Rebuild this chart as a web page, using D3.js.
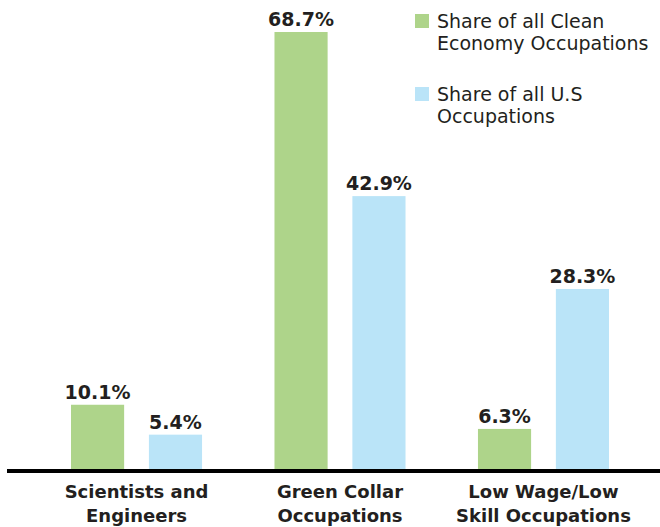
<!DOCTYPE html>
<html lang="en">
<head>
  <meta charset="UTF-8">
  <title>Clean economy occupations</title>
  <script src="https://d3js.org/d3.v7.min.js"></script>
  <style>
    body { margin: 0; background: #ffffff; }
    .val { font-family: "DejaVu Sans", sans-serif; font-weight: bold; font-size: 19px; fill: #231f20; }
    .cat { font-family: "DejaVu Sans", sans-serif; font-weight: bold; font-size: 18px; fill: #231f20; }
    .leg { font-family: "DejaVu Sans", sans-serif; font-size: 19px; fill: #231f20; }
  </style>
</head>
<body>
<script>
// data
var categories = [["Scientists and", "Engineers"], ["Green Collar", "Occupations"], ["Low Wage/Low", "Skill Occupations"]];
var seriesNames = [["Share of all Clean", "Economy Occupations"], ["Share of all U.S", "Occupations"]];
var cleanShare = [10.1, 68.7, 6.3];
var usShare = [5.4, 42.9, 28.3];
var colors = ["#aed48a", "#bae4f8"];

var W = 660, H = 527;
var svg = d3.select("body").append("svg")
  .attr("width", W)
  .attr("height", H);

var baseline = 469;
var x0 = d3.scaleBand()
  .domain(d3.range(categories.length))
  .range([71, 609])
  .paddingInner(0.356);
var x1 = d3.scaleBand()
  .domain([0, 1])
  .range([0, x0.bandwidth()])
  .paddingInner(0.318);
var y = d3.scaleLinear()
  .domain([0, 68.7])
  .range([baseline, 32]);

var rows = categories.map(function(c, i) {
  return [cleanShare[i], usShare[i]];
});

var groups = svg.selectAll(".grp")
  .data(rows)
  .enter()
  .append("g")
  .attr("class", "grp")
  .attr("transform", function(d, i) { return "translate(" + x0(i) + ",0)"; });

groups.selectAll("rect")
  .data(function(d) { return d; })
  .enter()
  .append("rect")
  .attr("x", function(d, j) { return x1(j); })
  .attr("y", function(d) { return y(d); })
  .attr("width", x1.bandwidth())
  .attr("height", function(d) { return baseline - y(d); })
  .style("fill", function(d, j) { return colors[j]; });

groups.selectAll("text.val")
  .data(function(d) { return d; })
  .enter()
  .append("text")
  .attr("class", "val")
  .attr("x", function(d, j) { return x1(j) + x1.bandwidth() / 2; })
  .attr("y", function(d) { return y(d) - 6; })
  .attr("text-anchor", "middle")
  .text(function(d) { return d.toFixed(1) + "%"; });

// axis line
svg.append("line")
  .attr("x1", 7).attr("x2", W)
  .attr("y1", baseline + 2).attr("y2", baseline + 2)
  .style("stroke", "#000").style("stroke-width", 4);

// category labels
var cat = svg.selectAll(".cat")
  .data(categories)
  .enter()
  .append("text")
  .attr("class", "cat")
  .attr("text-anchor", "middle")
  .attr("x", function(d, i) { return x0(i) + x0.bandwidth() / 2; })
  .attr("y", 498);
cat.selectAll("tspan")
  .data(function(d) { return d; })
  .enter()
  .append("tspan")
  .attr("x", function() { return this.parentNode.getAttribute("x"); })
  .attr("dy", function(d, k) { return k === 0 ? 0 : 24; })
  .text(function(d) { return d; });

// legend
var leg = svg.selectAll(".legitem")
  .data(seriesNames)
  .enter()
  .append("g")
  .attr("class", "legitem")
  .attr("transform", function(d, i) { return "translate(415," + (14 + i * 73) + ")"; });
leg.append("rect")
  .attr("width", 14).attr("height", 14)
  .style("fill", function(d, i) { return colors[i]; });
var lt = leg.append("text")
  .attr("class", "leg")
  .attr("x", 22)
  .attr("y", 14);
lt.selectAll("tspan")
  .data(function(d) { return d; })
  .enter()
  .append("tspan")
  .attr("x", 22)
  .attr("dy", function(d, k) { return k === 0 ? 0 : 22; })
  .text(function(d) { return d; });
</script>
</body>
</html>
